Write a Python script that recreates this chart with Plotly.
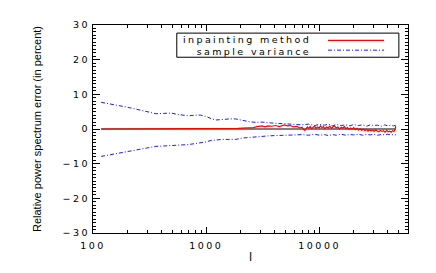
import plotly.graph_objects as go

# sample variance envelope
l_var = [118, 150, 200, 250, 300, 360, 420, 490, 560, 690, 800, 890, 1000, 1100, 1220, 1400,
         1600, 1820, 2100, 2400, 2730, 3100, 3500, 4000, 4360, 5000, 5600, 6300,
         7000, 8000, 9000, 10000, 11000, 12000, 13000, 14000, 15500, 17000, 18500, 20000,
         22000, 24000, 26000, 28000, 30000, 32500, 35000, 37500, 40000, 42500, 45000, 47000]
var_upper = [7.7, 7.1, 6.3, 5.6, 5.0, 4.4, 4.5, 4.6, 4.2, 3.8, 4.0, 4.0, 3.6, 3.0, 2.6, 2.8,
             2.9, 2.9, 2.4, 2.1, 1.9, 2.0, 1.8, 1.7, 1.7, 1.6, 1.4, 1.3,
             1.2, 1.4, 1.0, 1.3, 1.1, 1.4, 0.9, 1.3, 1.0, 1.2, 0.9, 1.3,
             1.0, 1.2, 0.8, 1.2, 1.0, 1.1, 0.8, 1.2, 0.9, 1.1, 0.9, 1.1]
var_lower = [-7.9, -7.3, -6.6, -6.0, -5.5, -5.0, -4.9, -4.8, -4.6, -4.5, -4.2, -4.0, -3.7, -3.3,
             -3.1, -3.0, -3.0, -3.0, -2.6, -2.4, -2.2, -2.1, -2.0, -1.9, -1.9, -1.8, -1.7, -1.7,
             -1.6, -1.8, -1.5, -1.8, -1.6, -1.9, -1.6, -1.8, -1.5, -1.8, -1.6, -1.7,
             -1.5, -1.8, -1.6, -1.7, -1.5, -1.8, -1.6, -1.7, -1.5, -1.7, -1.6, -1.7]

# inpainting method relative error
l_inp = [118, 1000, 1500, 1700, 1900, 2100, 2240, 2400, 2600, 2800, 3090, 3300, 3500, 3800,
         4100, 4400, 4900, 5200, 5500, 5900, 6300, 6700,
         7000, 7200, 7400, 7600, 7800, 8000, 8250, 8500, 8750, 9000,
         9300, 9600, 9900, 10200, 10500, 10800, 11100, 11500, 11900, 12300,
         12700, 13100, 13500, 14000, 14500, 15000, 15500, 16000, 16500, 17000,
         17600, 18200, 18800, 19400, 20000, 20700, 21400, 22100, 22800, 23500,
         24300, 25100, 25900, 26700, 27600, 28500, 29400, 30300, 31300, 32300,
         33300, 34400, 35500, 36600, 37800, 39000, 40200, 41500, 42800, 44100,
         45300, 46200, 47000]
inp_err = [0, 0, 0.05, 0.1, 0.2, 0.25, 0.3, 0.5, 0.4, 0.7, 0.9, 0.6, 0.9, 0.8,
           1.0, 0.7, 1.2, 0.9, 1.0, 0.6, 0.75, 0.3,
           0.5, -0.1, -0.4, 0.1, 0.6, 0.2, 0.7, 0.1, 0.5, 0.8,
           0.2, 0.6, 0.3, 0.9, 0.4, 0.7, 0.1, 0.6, 0.3, 0.8,
           0.2, 0.5, 0.9, 0.3, 0.6, 0.0, 0.5, 0.2, 0.7, 0.1,
           0.4, -0.1, 0.3, 0.0, 0.4, -0.2, 0.2, -0.3, 0.1, -0.4,
           0.0, -0.5, -0.1, -0.6, -0.2, -0.5, -0.3, -0.7, -0.2, -0.6,
           -0.8, -0.4, -0.7, -0.5, -0.9, -0.4, -0.8, -0.6, -0.9, -0.5,
           -0.7, -0.2, 0.8]

zero_l = [118, 47000]
zero_v = [0, 0]

y_ticks = [-30, -20, -10, 0, 10, 20, 30]
y_ticklabels = ["−30", "−20", "−10", "0", "10", "20", "30"]
x_ticks = [100, 1000, 10000]
x_ticklabels = ["100", "1000", "10000"]
legend_labels = ["inpainting method", "sample variance"]

BLUE = "#1a1aff"
RED = "#ff0000"
DASHDOT = "4px,2px,1px,2px"


def wide(s, ls=2.5):
    return '<span style="letter-spacing:%spx">%s</span>' % (ls, s)


fig = go.Figure()
fig.add_trace(go.Scatter(x=zero_l, y=zero_v, mode="lines", line=dict(color="black", width=1),
                         showlegend=False))
fig.add_trace(go.Scatter(x=l_var, y=var_upper, mode="lines", name=legend_labels[1],
                         line=dict(color=BLUE, width=1, dash=DASHDOT), showlegend=False))
fig.add_trace(go.Scatter(x=l_var, y=var_lower, mode="lines",
                         line=dict(color=BLUE, width=1, dash=DASHDOT), showlegend=False))
fig.add_trace(go.Scatter(x=l_inp, y=inp_err, mode="lines", name=legend_labels[0],
                         line=dict(color=RED, width=1.2), showlegend=False))

# legend drawn manually (text left of sample line, as in the original)
leg_font = dict(family="DejaVu Sans", size=9.5, color="black")
fig.add_shape(type="rect", xref="paper", yref="paper", x0=0.266, x1=0.971, y0=0.845, y1=0.961,
              line=dict(color="black", width=1), fillcolor="white")
fig.add_annotation(xref="paper", yref="paper", x=0.694, y=0.903,
                   text=wide(legend_labels[0], 2.4) + "<br>" + wide(legend_labels[1], 2.4),
                   showarrow=False, xanchor="right", yanchor="middle", align="right",
                   font=leg_font, borderpad=0)
fig.add_shape(type="line", xref="paper", yref="paper", x0=0.746, x1=0.924, y0=0.926, y1=0.926,
              line=dict(color=RED, width=1.2))
fig.add_shape(type="line", xref="paper", yref="paper", x0=0.746, x1=0.924, y0=0.879, y1=0.879,
              line=dict(color=BLUE, width=1, dash=DASHDOT))

tick_font = dict(family="DejaVu Sans", size=9.5, color="black")
# page body has an 8px default margin, so the figure is 8px smaller and margins shifted
fig.update_layout(
    width=428, height=265,
    margin=dict(l=85, r=28, t=11, b=39),
    paper_bgcolor="white", plot_bgcolor="white",
    xaxis=dict(type="log", range=[2, 4.78], tickvals=x_ticks,
               ticktext=[wide(t) for t in x_ticklabels],
               ticks="inside", ticklen=6, tickcolor="black", showline=True, linecolor="black",
               linewidth=1, mirror="allticks", showgrid=False, zeroline=False,
               tickfont=tick_font, ticklabelstandoff=4,
               minor=dict(ticks="inside", ticklen=3, tickcolor="black", dtick="D1", showgrid=False),
               title=dict(text="l", font=dict(family="Liberation Sans", size=12, color="black"),
                          standoff=2)),
    yaxis=dict(range=[-30, 30], tickvals=y_ticks, ticktext=[wide(t) for t in y_ticklabels],
               ticks="inside", ticklen=7, tickcolor="black",
               showline=True, linecolor="black", linewidth=1, mirror="allticks",
               showgrid=False, zeroline=False, tickfont=tick_font,
               minor=dict(ticks="inside", ticklen=3, tickcolor="black", dtick=1, showgrid=False),
               title=dict(text="Relative power spectrum error (in percent)",
                          font=dict(family="Liberation Sans", size=11, color="black"),
                          standoff=18)),
)

fig.write_html("out.html")
